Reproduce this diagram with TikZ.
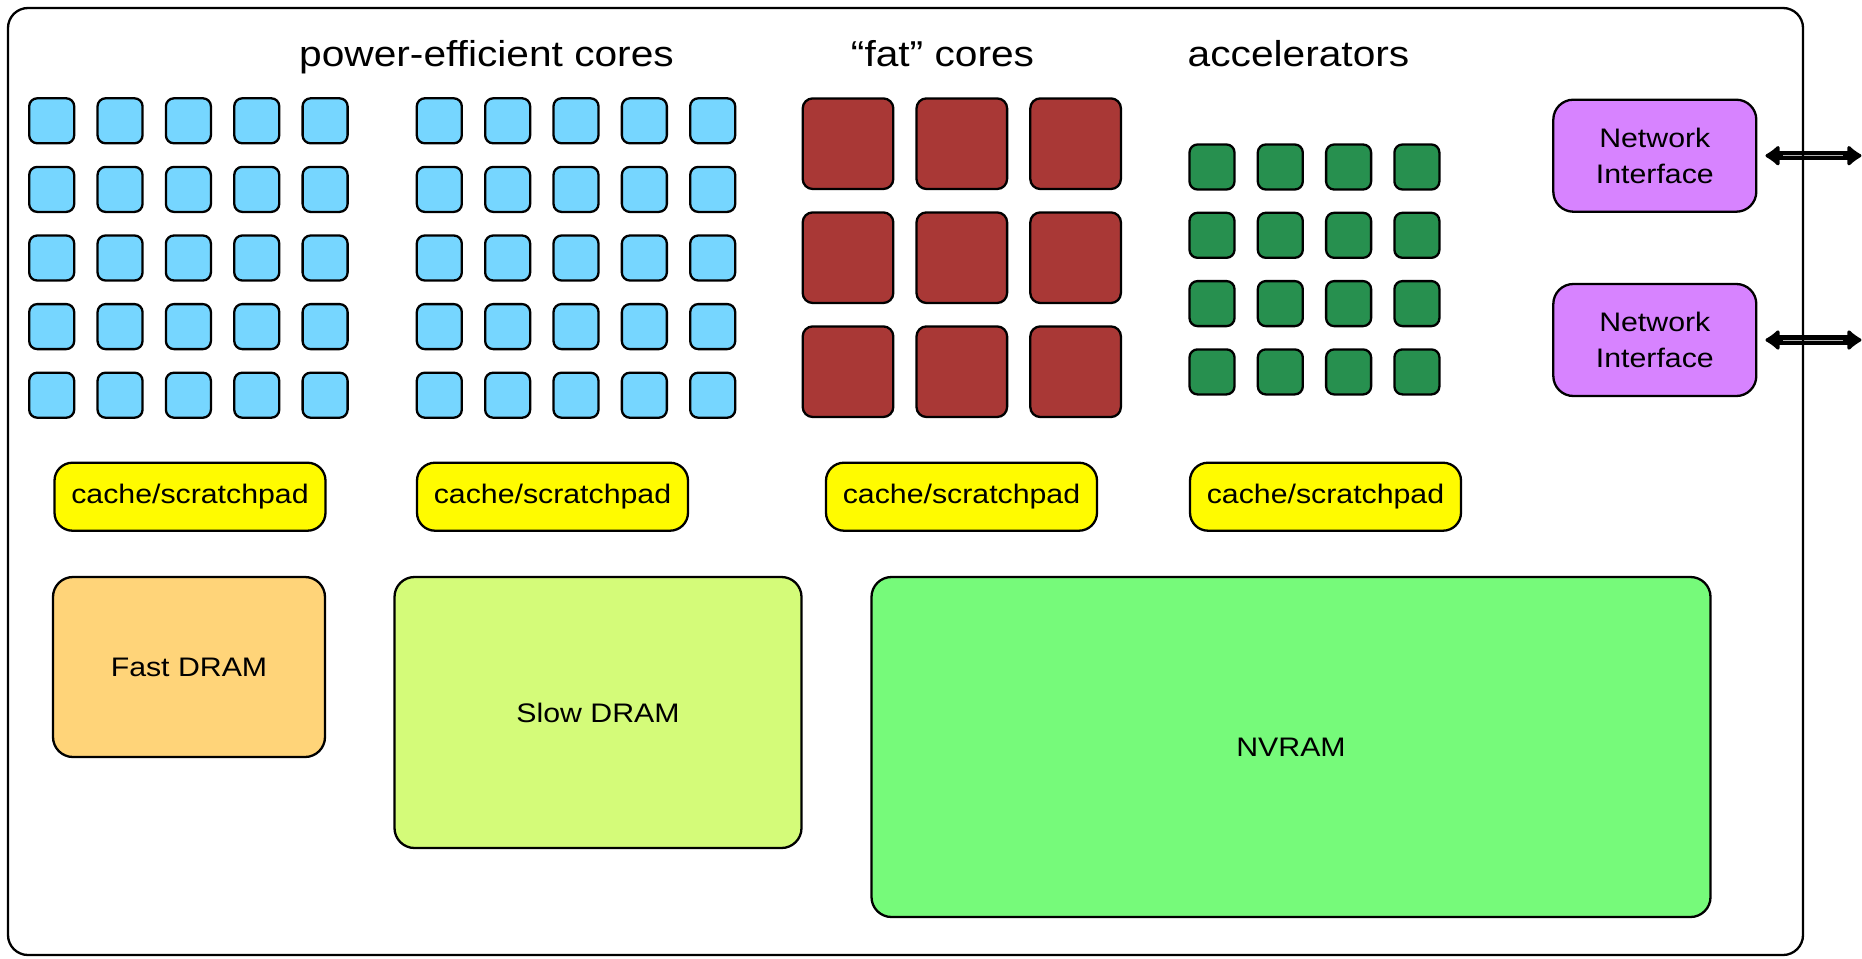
\documentclass[tikz,border=0pt]{standalone}
\usepackage{fontspec}
\setmainfont[FakeStretch=1.13]{Liberation Sans}
\usepackage{tikz}
\usetikzlibrary{
	positioning,
	arrows.meta}
\definecolor{sky}{HTML}{76D6FF}
\definecolor{brick}{HTML}{A93836}
\definecolor{moss}{HTML}{27904F}
\definecolor{lavender}{HTML}{D783FF}
\definecolor{lemon}{HTML}{FFFB00}
\definecolor{cantaloupe}{HTML}{FFD479}
\definecolor{honeydew}{HTML}{D4FB79}
\definecolor{flora}{HTML}{76FA7A}
\tikzset{
	chip diagram/.style={
		x=.5pt, y=-.5pt,
		line width=1.15pt,
		every node/.style={font=\fontsize{13.4}{18}\selectfont}
		},
	core size/.store in=\csize,
	core size=22.5pt,
	fat size/.store in=\fsize,
	fat size=45.3pt,
	core/.style={
		rectangle,
		draw=black,
		fill=sky,
		rounded corners=4pt,
		inner sep=0pt,
		minimum size=\csize
	},
	fat core/.style={
		core,
		fill=brick,
		rounded corners=5pt,
		minimum size=\fsize
	},
	accel/.style={
		core,
		fill=moss
	},
	block/.style={
		rectangle,
		draw=black,
		rounded corners=10pt,
		inner sep=0pt,
		align=center
	},
	cache/.style={
		block,
		fill=lemon,
		rounded corners=9pt,
		minimum width=135.5pt,
		minimum height=34pt
	},
	netif/.style={
		block,
		fill=lavender,
		minimum width=101.5pt,
		minimum height=56pt
	},
	group title/.style={
		anchor=base,
		font=\fontsize{18}{20}\selectfont
	},
	netlink/.style={
		line width=4.6pt,
		shorten <=4pt,
		{Latex[round,length=8pt,width=12.5pt]}-{Latex[round,length=8pt,width=12.5pt]},
		postaction={draw=white!70!black, line width=.25pt, -, shorten <=13pt, shorten >=9pt}
	},
}

\begin{document}
\begin{tikzpicture}[chip diagram]
	\useasboundingbox (0,0) rectangle (1862,958);
	% group titles
	\node[group title] (t-pwr) at (486.5,66.7) {power-efficient cores};
	\node[group title] (t-fat) at (942.5,66.7) {“fat” cores};
	\node[group title] (t-acc) at (1298.5,66.7) {accelerators};
	% cores
	\foreach \c in {0,...,4}
		\foreach \r in {0,...,4} {
			\node[core] (pa-\r-\c) at ({51.7+68.35*\c},{120.8+68.6*\r}) {};
			\node[core] (pb-\r-\c) at ({439.3+68.35*\c},{120.8+68.6*\r}) {};
		}
	\foreach \c in {0,1,2}
		\foreach \r in {0,1,2}
			\node[fat core] (fat-\r-\c) at ({848+113.8*\c},{143.7+114*\r}) {};
	\foreach \c in {0,...,3}
		\foreach \r in {0,...,3}
			\node[accel] (acc-\r-\c) at ({1212+68.3*\c},{167+68.3*\r}) {};
	% caches
	\node[cache] (cache-a) at (190,496.7) {cache/scratchpad};
	\node[cache] (cache-b) at (552.5,496.7) {cache/scratchpad};
	\node[cache] (cache-c) at (961.5,496.7) {cache/scratchpad};
	\node[cache] (cache-d) at (1325.5,496.7) {cache/scratchpad};
	% memories
	\node[block, fill=cantaloupe, minimum width=136pt, minimum height=90pt] (fast) at (189,667) {Fast DRAM};
	\node[block, fill=honeydew, minimum width=203.5pt, minimum height=135.5pt] (slow) at (598,712.5) {Slow DRAM};
	\node[block, fill=flora, minimum width=419.5pt, minimum height=170pt] (nvram) at (1291,747) {NVRAM};
	% network
	\node[netif] (ni1) at (1654.8,155.7) {Network\\Interface};
	\node[netif, below=35pt of ni1] (ni2) {Network\\Interface};
	\coordinate[right=52pt of ni1.east] (out1);
	\coordinate[right=52pt of ni2.east] (out2);
	\draw[netlink] (ni1.east) -- (out1);
	\draw[netlink] (ni2.east) -- (out2);
	% chip outline
	\node[block, minimum width=897.5pt, minimum height=473.5pt] (chip) at (905.5,481.5) {};
\end{tikzpicture}
\end{document}
